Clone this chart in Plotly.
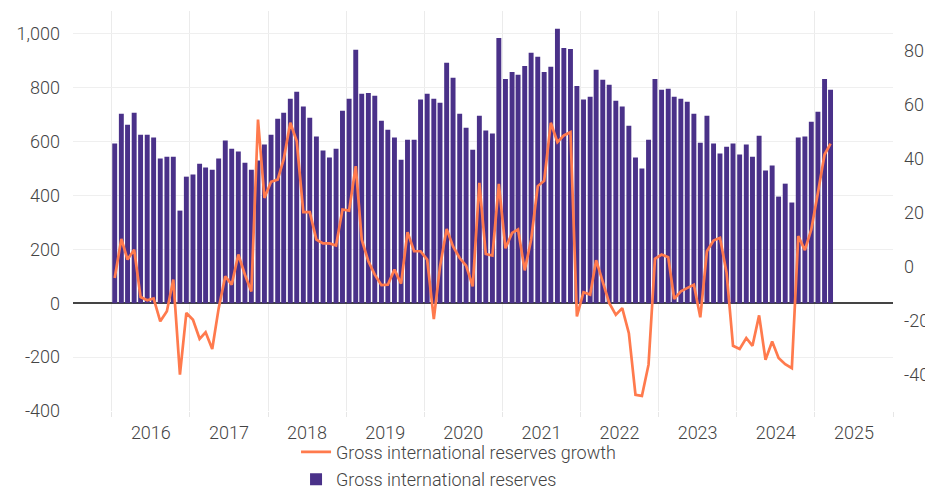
import pandas as pd
import plotly.graph_objects as go

# Monthly data, Jan 2016 - Mar 2025
months = pd.date_range("2016-01-01", periods=111, freq="MS") + pd.Timedelta(days=14)

reserves = [
    593, 704, 663, 707, 626, 626, 615, 537, 544, 544, 344, 470,
    478, 518, 504, 496, 537, 604, 574, 563, 522, 496, 530, 589,
    626, 685, 707, 759, 785, 730, 689, 619, 567, 541, 574, 715,
    759, 941, 778, 781, 770, 678, 644, 615, 533, 607, 607, 756,
    778, 759, 744, 893, 837, 704, 652, 570, 696, 641, 630, 985,
    833, 859, 848, 881, 930, 915, 859, 878, 1019, 948, 944, 807,
    756, 767, 867, 830, 811, 752, 730, 659, 541, 500, 607, 833,
    793, 796, 767, 759, 748, 704, 596, 696, 593, 556, 581, 593,
    552, 589, 544, 622, 493, 511, 396, 444, 374, 615, 619, 674,
    711, 833, 793,
]

growth = [
    -4.2, 10.3, 2.6, 6.3, -11.3, -12.5, -11.8, -20.3, -16.6, -4.8, -40.1, -17.2,
    -19.7, -26.8, -24.4, -30.6, -15.5, -3.6, -6.7, 4.5, -3.0, -9.2, 54.6, 25.5,
    31.5, 32.3, 39.8, 53.4, 46.6, 20.2, 20.2, 10.0, 8.6, 8.6, 7.8, 21.2,
    20.8, 37.3, 10.0, 2.0, -3.0, -6.9, -6.7, -1.1, -6.3, 12.8, 5.7, 5.7,
    2.6, -19.5, 0.0, 14.0, 7.5, 3.2, 0.4, -7.3, 31.1, 4.7, 4.1, 30.7,
    6.8, 12.5, 13.8, -1.4, 10.0, 29.9, 31.9, 53.4, 46.2, 48.7, 49.9, -18.5,
    -9.5, -10.4, 2.4, -6.1, -13.5, -17.9, -15.4, -24.7, -47.6, -48.0, -36.4, 2.9,
    4.5, 3.5, -12.0, -9.2, -7.9, -6.7, -18.8, 5.7, 9.7, 10.7, -2.3, -29.4,
    -30.6, -26.5, -29.4, -18.1, -34.6, -27.8, -33.9, -36.2, -37.7, 11.3, 6.1, 13.8,
    27.4, 41.6, 45.7,
]

left_ticks = [-400, -200, 0, 200, 400, 600, 800, 1000]
left_labels = ["-400", "-200", "0", "200", "400", "600", "800", "1,000"]
right_ticks = [-40, -20, 0, 20, 40, 60, 80]
right_labels = ["-40", "-20", "0", "20", "40", "60", "80"]

PURPLE = "#4a3189"
ORANGE = "#ff7a4d"
TXT = "#444444"
FONT = dict(family="Roboto", size=18, color=TXT, weight=300)

fig = go.Figure()
fig.add_trace(go.Scatter(
    x=months, y=growth, name="Gross international reserves growth",
    mode="lines", line=dict(color=ORANGE, width=2.7), yaxis="y2",
    legendgroup="g1",
))
fig.add_trace(go.Bar(
    x=months, y=reserves, name="Gross international reserves",
    marker=dict(color=PURPLE, line=dict(width=0)),
    width=23 * 24 * 3600 * 1000, legendgroup="g2",
))

fig.update_layout(
    width=933, height=491,
    margin=dict(l=65, r=48, t=3, b=88),
    paper_bgcolor="white", plot_bgcolor="white",
    font=FONT,
    showlegend=True,
    legend=dict(orientation="v", xref="paper", yref="container",
                x=0.272, xanchor="left", y=0.133, yanchor="top",
                font=FONT, tracegroupgap=1, itemwidth=30,
                bgcolor="rgba(0,0,0,0)"),
    xaxis=dict(
        type="date", range=["2015-07-04", "2026-01-01"],
        tick0="2016-01-01", dtick="M12", tickformat="%Y", ticklabelmode="period",
        showgrid=True, gridcolor="#ebebeb", gridwidth=1,
        ticks="outside", ticklen=5, tickcolor="#e6e6e6",
        showline=False, zeroline=False, automargin=False,
    ),
    yaxis=dict(
        range=[-400, 1085], tickvals=left_ticks, ticktext=left_labels,
        showgrid=True, gridcolor="#efefef", gridwidth=1,
        zeroline=True, zerolinecolor="#444444", zerolinewidth=1.5,
        showline=False, ticklabelstandoff=12, automargin=False,
    ),
    yaxis2=dict(
        overlaying="y", side="right",
        range=[-53.6, 94.9], tickvals=right_ticks, ticktext=right_labels,
        showgrid=False, zeroline=False, showline=False,
        ticklabelstandoff=10, automargin=False,
    ),
    bargap=0.2,
)

fig.write_html("out.html")
